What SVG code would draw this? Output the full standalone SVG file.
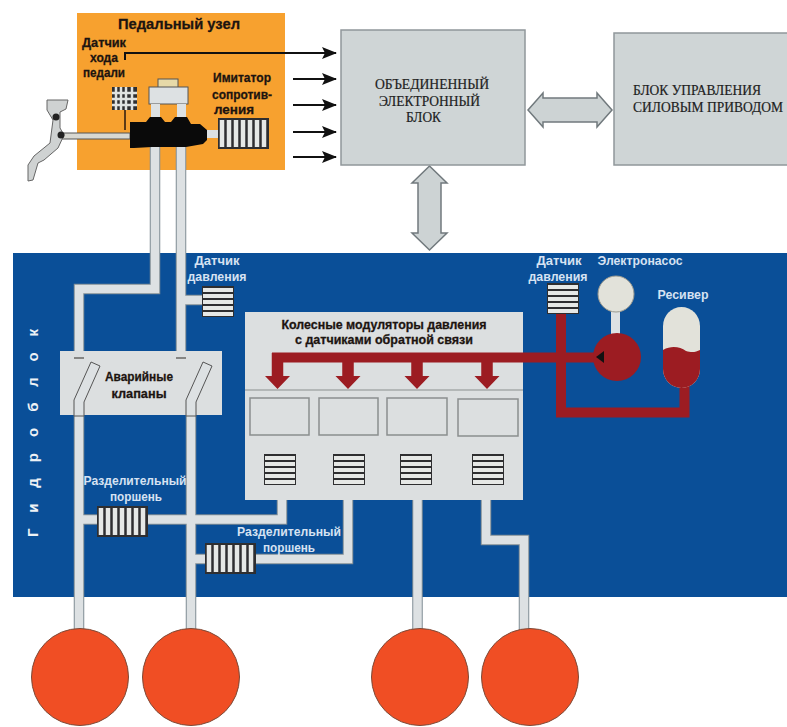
<svg xmlns="http://www.w3.org/2000/svg" width="787" height="727" viewBox="0 0 787 727">
<style>
text{font-family:"Liberation Sans",Arial,sans-serif;font-weight:bold;text-anchor:middle}
.d{fill:#1c1410;font-size:13.5px;stroke:#1c1410;stroke-width:.3}
.w{fill:#d6e2f2;font-size:13px}
.s{font-family:"Liberation Serif","Times New Roman",serif;font-weight:normal;fill:#1e1e1e;font-size:14px;text-anchor:start;stroke:#1e1e1e;stroke-width:.2}
.pp{fill:none;stroke-linejoin:miter}
.po{stroke:#7f8c94;stroke-width:10.500}
.pi{stroke:#dde1e3;stroke-width:8.500}
.red{fill:none;stroke:#9c1c22;stroke-width:10}
.drop{fill:none;stroke:#9c1c22;stroke-width:11.500}
.box{fill:#dcdfe0}
.blk{fill:#cfd5d6;stroke:#90979a;stroke-width:1.500}
.ar{stroke:#111;stroke-width:2;fill:none;marker-end:url(#a)}
.dbl{fill:#cdd3d4;stroke:#71797d;stroke-width:1.500}
.wh{fill:#f04e24;stroke:#7c4a38;stroke-width:1}
.cell{fill:#dcdfe0;stroke:#8a8f8e;stroke-width:1.500}
</style>
<defs>
<marker id="a" markerUnits="userSpaceOnUse" markerWidth="15" markerHeight="12" refX="14" refY="6" orient="auto"><path d="M0 0L15 6L0 12L3 6Z" fill="#111"/></marker>
<g id="hs"><rect width="32" height="31" fill="#2e2e30"/><path d="M1 4H31M1 10H31M1 16H31M1 22H31M1 28H31" stroke="#e6e8e6" stroke-width="4"/></g>
<g id="vs"><rect width="51" height="31" fill="#2e2e30"/><path d="M4 2V29M11 2V29M18 2V29M25 2V29M32 2V29M39 2V29M46 2V29" stroke="#e6e8e6" stroke-width="4.500"/></g>
<g id="pipes">
<path d="M155 145V289H79V358"/>
<path d="M181 145V358M181 300H205"/>
<path d="M79 405V632M79 519.500H282V498"/>
<path d="M191 405V632M191 559H348V498"/>
<path d="M417.500 498V632"/>
<path d="M486 498V540H524V632"/>
</g>
</defs>
<rect width="787" height="727" fill="#fff"/>
<rect id="hydro-block" x="13" y="253" width="774" height="344" fill="#0a4f98"/>
<g id="pedal-unit"><rect x="77" y="13" width="208" height="157" fill="#f7a12f"/>
<text x="179" y="29" class="d" textLength="122" lengthAdjust="spacingAndGlyphs" style="font-size:15px">Педальный узел</text>
<text x="104" y="47" class="d" textLength="44" lengthAdjust="spacingAndGlyphs">Датчик</text>
<text x="104" y="62" class="d" textLength="28" lengthAdjust="spacingAndGlyphs">хода</text>
<text x="104" y="77" class="d" textLength="42" lengthAdjust="spacingAndGlyphs">педали</text>
<text x="242" y="82" class="d" textLength="58" lengthAdjust="spacingAndGlyphs">Имитатор</text>
<text x="242" y="99" class="d" textLength="60" lengthAdjust="spacingAndGlyphs">сопротив-</text>
<text x="234" y="114" class="d" textLength="40" lengthAdjust="spacingAndGlyphs">ления</text></g>
<g id="connectors">
<use href="#pipes" class="pp po"/>
<use href="#pipes" class="pp pi"/>
<path class="ar" d="M125 60V53H336"/>
<path class="ar" d="M293 79H336"/>
<path class="ar" d="M293 105H336"/>
<path class="ar" d="M293 132H336"/>
<path class="ar" d="M293 157H336"/>
<path class="dbl" d="M528 110L543 93V98H597V93L612 110L597 127V122H543V127Z"/>
<path class="dbl" d="M429.500 166L447 183H441V233H447L429.500 250L412 233H418V183H412Z"/>
</g>
<g id="emergency-valves"><rect x="60" y="351" width="162" height="64" fill="#dcdfe0"/>
<path d="M74 358H84M176 358H186" stroke="#6a6a66" stroke-width="1.500"/>
<path d="M74 400L91 362L100 366L84 402V416H74Z" fill="#dde1e3" stroke="#555" stroke-width="1"/>
<path d="M186 400L203 362L212 366L196 402V416H186Z" fill="#dde1e3" stroke="#555" stroke-width="1"/>
<text x="139" y="381" class="d" textLength="68" lengthAdjust="spacingAndGlyphs">Аварийные</text>
<text x="139" y="398" class="d" textLength="55" lengthAdjust="spacingAndGlyphs">клапаны</text></g>
<g id="modulators"><rect class="box" x="245" y="312" width="278" height="188"/>
<path d="M245 390H523" stroke="#8a8f8e" stroke-width="1.200"/>
<text x="384" y="329" class="d" textLength="205" lengthAdjust="spacingAndGlyphs">Колесные модуляторы давления</text>
<text x="384" y="344" class="d" textLength="178" lengthAdjust="spacingAndGlyphs">с датчиками обратной связи</text>
<rect class="cell" x="250" y="398" width="59" height="37"/><rect class="cell" x="319" y="398" width="59" height="37"/><rect class="cell" x="387" y="398" width="60" height="37"/><rect class="cell" x="458" y="399" width="60" height="37"/>
<use href="#hs" x="264" y="454"/><use href="#hs" x="333" y="454"/><use href="#hs" x="400" y="454"/><use href="#hs" x="472" y="454"/></g>
<g id="hydraulic">
<path class="red" d="M596 357.500H272"/>
<path class="drop" d="M277.500 353V378M348 357V378M417 357V378M487 357V378"/>
<path d="M265 376H290L277.500 389ZM335.500 376H360.500L348 389ZM404.500 376H429.500L417 389ZM474.500 376H499.500L487 389Z" fill="#9c1c22"/>
<path class="red" d="M561 312V412.500H684.500V384"/>
</g>
<g id="pressure-sensor-1"><text x="217" y="265" class="w" textLength="45" lengthAdjust="spacingAndGlyphs">Датчик</text><text x="217" y="281" class="w" textLength="59" lengthAdjust="spacingAndGlyphs">давления</text><use href="#hs" x="202" y="286"/></g>
<g id="pressure-sensor-2"><text x="559" y="265" class="w" textLength="45" lengthAdjust="spacingAndGlyphs">Датчик</text><text x="558" y="281" class="w" textLength="59" lengthAdjust="spacingAndGlyphs">давления</text><use href="#hs" x="547" y="283"/></g>
<g id="pump"><text x="640" y="265" class="w" textLength="85" lengthAdjust="spacingAndGlyphs">Электронасос</text>
<rect x="611" y="310" width="9" height="26" fill="#dde1e3"/><circle cx="616" cy="294" r="18" fill="#e2e2da" stroke="#9a9a90"/><circle cx="617" cy="357" r="24" fill="#9c1c22"/><path d="M596 357L604 351V363Z" fill="#111"/></g>
<g id="receiver"><text x="683" y="299" class="w" textLength="51" lengthAdjust="spacingAndGlyphs">Ресивер</text>
<path d="M663 326A18.500 19 0 0 1 700 326V369A18.500 19 0 0 1 663 369Z" fill="#e2e2da"/>
<path d="M663 350C672 345 680 347 686 351C692 353 696 352 700 350V369A18.500 19 0 0 1 663 369Z" fill="#9c1c22"/></g>
<g id="piston-1"><text x="135" y="485" class="w" textLength="103" lengthAdjust="spacingAndGlyphs">Разделительный</text><text x="136" y="501" class="w" textLength="52" lengthAdjust="spacingAndGlyphs">поршень</text><use href="#vs" x="97" y="506"/></g>
<g id="piston-2"><text x="289" y="536" class="w" textLength="104" lengthAdjust="spacingAndGlyphs">Разделительный</text><text x="289" y="552" class="w" textLength="52" lengthAdjust="spacingAndGlyphs">поршень</text><use href="#vs" x="205" y="543"/></g>
<text id="hydro-label" transform="translate(38 537) rotate(-90)" fill="#eef2f6" style="font-size:15px;letter-spacing:16px;text-anchor:start">Гидроблок</text>
<g id="master-cylinder">
<path d="M60 133H130V139H60Z" fill="#d8d8d2" stroke="#555"/>
<path d="M125 88V130" stroke="#2a1a10" stroke-width="1.500"/>
<rect x="112" y="87" width="25" height="23" fill="#2e2e30"/><path d="M116 87V110M121 87V110M126 87V110M132 87V110M112 93H137M112 99H137M112 105H137" stroke="#dfe2e0" stroke-width="2.500"/>
<rect x="158" y="79" width="20" height="9" fill="#e6d9a8" stroke="#555"/><rect x="149" y="87" width="39" height="17" fill="#dde1e3" stroke="#555"/>
<rect x="151" y="104" width="9" height="20" fill="#dde1e3"/><rect x="177" y="104" width="9" height="20" fill="#dde1e3"/>
<path d="M130 122H146L150 117H161L165 122H171L175 117H187L191 124H200L207 130V140L203 144L186 147H152L134 148H130Z" fill="#0a0a0a"/>
<rect x="207" y="130" width="11" height="8" fill="#dde1e3"/><use href="#vs" x="218" y="118"/>
<path d="M47 100H68L66 109L60 112V128L64 135L58 148L44 160L38 163L33 180L28 181L28 165L34 156L50 143L53 120L47 110Z" fill="#cfd2d2" stroke="#666"/>
<circle cx="56" cy="117" r="3.500" fill="#222"/><circle cx="61" cy="135" r="3.500" fill="#222"/>
</g>
<g id="ecu"><rect class="blk" x="341" y="30" width="184" height="135"/><text class="s" x="375" y="89" textLength="114" lengthAdjust="spacingAndGlyphs">ОБЪЕДИНЕННЫЙ</text><text class="s" x="379" y="106" textLength="101" lengthAdjust="spacingAndGlyphs">ЭЛЕКТРОННЫЙ</text><text class="s" x="406" y="122" textLength="35" lengthAdjust="spacingAndGlyphs">БЛОК</text></g>
<g id="power-ctrl"><rect class="blk" x="614" y="33" width="175" height="132"/><text class="s" x="633" y="95" textLength="128" lengthAdjust="spacingAndGlyphs">БЛОК УПРАВЛЕНИЯ</text><text class="s" x="633" y="112" textLength="150" lengthAdjust="spacingAndGlyphs">СИЛОВЫМ ПРИВОДОМ</text></g>
<g id="wheels"><circle class="wh" cx="80" cy="677" r="48.500"/><circle class="wh" cx="191" cy="677" r="48.500"/><circle class="wh" cx="420" cy="677" r="48.500"/><circle class="wh" cx="530" cy="677" r="48.500"/></g>
</svg>
